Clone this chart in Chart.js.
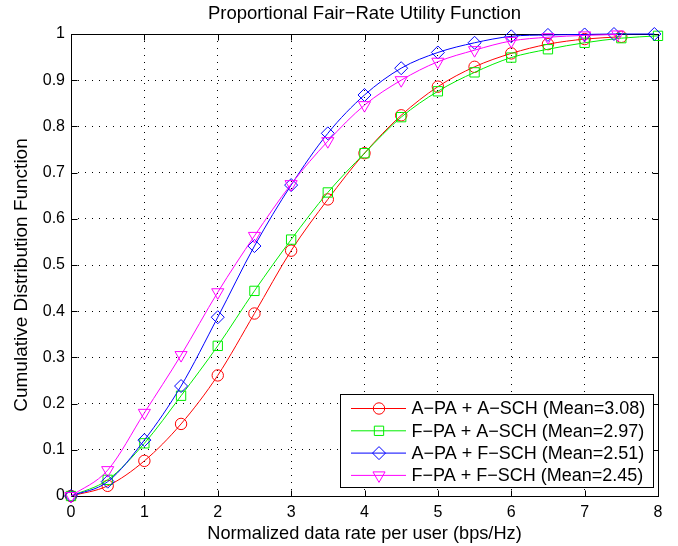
<!DOCTYPE html>
<html>
<head>
<meta charset="utf-8">
<script src="https://cdn.jsdelivr.net/npm/chart.js@4.4.1/dist/chart.umd.min.js"></script>
<style>
html,body{margin:0;padding:0;background:#fff;}
canvas{display:block;}
</style>
</head>
<body>
<canvas id="c" width="678" height="546"></canvas>
<script>
// ---------- data ----------
const chartTitle = 'Proportional Fair\u2212Rate Utility Function';
const xAxisTitle = 'Normalized data rate per user (bps/Hz)';
const yAxisTitle = 'Cumulative Distribution Function';
const seriesLabels = [
  'A\u2212PA + A\u2212SCH (Mean=3.08)',
  'F\u2212PA + A\u2212SCH (Mean=2.97)',
  'A\u2212PA + F\u2212SCH (Mean=2.51)',
  'F\u2212PA + F\u2212SCH (Mean=2.45)'
];
const xTickLabels = ['0','1','2','3','4','5','6','7','8'];
const yTickLabels = ['0','0.1','0.2','0.3','0.4','0.5','0.6','0.7','0.8','0.9','1'];

const xApaAsch = [0,0.5,1,1.5,2,2.5,3,3.5,4,4.5,5,5.5,6,6.5,7,7.5];
const yApaAsch = [0,0.022,0.076,0.156,0.261,0.395,0.531,0.642,0.742,0.824,0.886,0.929,0.958,0.978,0.989,0.994];

const xFpaAsch = [0,0.5,1,1.5,2,2.5,3,3.5,4,4.5,5,5.5,6,6.5,7,7.5,8];
const yFpaAsch = [0,0.035,0.114,0.217,0.325,0.444,0.555,0.657,0.742,0.820,0.876,0.917,0.949,0.967,0.981,0.991,0.996];

const xApaFsch = [0,0.5,1,1.5,2,2.5,3,3.5,4,4.5,5,5.5,6,6.5,7,7.4,7.95];
const yApaFsch = [0,0.031,0.121,0.238,0.387,0.541,0.673,0.785,0.868,0.926,0.960,0.981,0.995,0.998,0.999,1.0,1.0];

const xFpaFsch = [0,0.5,1,1.5,2,2.5,3,3.5,4,4.5,5,5.5,6,6.5,7,7.45];
const yFpaFsch = [0,0.056,0.180,0.305,0.441,0.563,0.675,0.768,0.846,0.900,0.940,0.965,0.985,0.993,0.997,0.999];

// ---------- helpers ----------
const FONT = "'Liberation Sans', Arial, Helvetica, sans-serif";
function pts(xs, ys) { return xs.map((x, i) => ({x: x, y: ys[i]})); }

function drawMarker(ctx, style, r, x, y) {
  ctx.beginPath();
  if (style === 'circle') {
    ctx.arc(x, y, r, 0, Math.PI * 2);
  } else if (style === 'rect') {
    const s = Math.SQRT1_2 * r;
    ctx.rect(x - s, y - s, 2 * s, 2 * s);
  } else if (style === 'rectRot') {
    ctx.moveTo(x - r, y); ctx.lineTo(x, y - r); ctx.lineTo(x + r, y); ctx.lineTo(x, y + r);
    ctx.closePath();
  } else if (style === 'triangleDown') {
    let a = Math.PI;
    ctx.moveTo(x + Math.sin(a) * r, y - Math.cos(a) * r);
    a += 2 * Math.PI / 3;
    ctx.lineTo(x + Math.sin(a) * r, y - Math.cos(a) * r);
    a += 2 * Math.PI / 3;
    ctx.lineTo(x + Math.sin(a) * r, y - Math.cos(a) * r);
    ctx.closePath();
  }
  ctx.stroke();
}

const seriesStyle = [
  {color: '#ff0000', style: 'circle', legendStyle: 'circle', r: 5.7, rot: 0},
  {color: '#00ee00', style: 'rect', legendStyle: 'rect', r: 6.6, rot: 0},
  {color: '#0000ff', style: 'rectRot', legendStyle: 'rectRot', r: 6.5, rot: 0},
  {color: '#ff00ff', style: 'triangle', legendStyle: 'triangleDown', r: 7, rot: 180}
];

// box + inward ticks + rotated y title
const boxPlugin = {
  id: 'matBox',
  beforeDatasetsDraw(chart) {
    const ctx = chart.ctx, a = chart.chartArea;
    const xs = chart.scales.x, ys = chart.scales.y;
    const L = Math.round(a.left) + 0.5, R = Math.round(a.right) + 0.5;
    const T = Math.round(a.top) + 0.5, B = Math.round(a.bottom) + 0.5;
    ctx.save();
    ctx.strokeStyle = '#000';
    ctx.lineWidth = 1;
    ctx.setLineDash([]);
    ctx.beginPath();
    xs.ticks.forEach(t => {
      const px = Math.round(xs.getPixelForValue(t.value)) + 0.5;
      ctx.moveTo(px, B); ctx.lineTo(px, B - 6);
      ctx.moveTo(px, T); ctx.lineTo(px, T + 6);
    });
    ys.ticks.forEach(t => {
      const py = Math.round(ys.getPixelForValue(t.value)) + 0.5;
      ctx.moveTo(L, py); ctx.lineTo(L + 6, py);
      ctx.moveTo(R, py); ctx.lineTo(R - 6, py);
    });
    ctx.stroke();
    ctx.strokeRect(L, T, R - L, B - T);
    // y axis title
    ctx.translate(22, (a.top + a.bottom) / 2 + 10);
    ctx.rotate(-Math.PI / 2);
    ctx.fillStyle = '#000';
    ctx.font = '19px ' + FONT;
    ctx.textAlign = 'center';
    ctx.textBaseline = 'middle';
    ctx.fillText(yAxisTitle, 0, 0);
    ctx.restore();
  }
};

// MATLAB-style legend inside axes
const legendPlugin = {
  id: 'matLegend',
  afterDraw(chart) {
    const ctx = chart.ctx, a = chart.chartArea;
    const w = 313, h = 93;
    const bx = Math.round(a.right - 5 - w) + 0.5, by = Math.round(a.bottom - 9 - h) + 0.5;
    ctx.save();
    ctx.fillStyle = '#fff';
    ctx.fillRect(bx, by, w, h);
    ctx.strokeStyle = '#000';
    ctx.lineWidth = 1;
    ctx.strokeRect(bx, by, w, h);
    ctx.font = '18px ' + FONT;
    ctx.textBaseline = 'middle';
    ctx.textAlign = 'left';
    chart.data.datasets.forEach((ds, i) => {
      const st = seriesStyle[i];
      const y = by + 14 + i * 22.3;
      ctx.strokeStyle = st.color;
      ctx.lineWidth = 1;
      ctx.beginPath();
      ctx.moveTo(bx + 10.5, y); ctx.lineTo(bx + 65.5, y);
      ctx.stroke();
      drawMarker(ctx, st.legendStyle, st.r, bx + 38.5, y);
      ctx.fillStyle = '#000';
      ctx.fillText(ds.label, bx + 71, y + 1);
    });
    ctx.restore();
  }
};

const allX = [xApaAsch, xFpaAsch, xApaFsch, xFpaFsch];
const allY = [yApaAsch, yFpaAsch, yApaFsch, yFpaFsch];

const datasets = seriesLabels.map((lab, i) => ({
  label: lab,
  data: pts(allX[i], allY[i]),
  borderColor: seriesStyle[i].color,
  backgroundColor: 'rgba(0,0,0,0)',
  borderWidth: 1,
  pointStyle: seriesStyle[i].style,
  pointRotation: seriesStyle[i].rot,
  pointRadius: seriesStyle[i].r,
  pointBorderColor: seriesStyle[i].color,
  pointBackgroundColor: 'rgba(0,0,0,0)',
  pointBorderWidth: 1,
  cubicInterpolationMode: 'monotone',
  fill: false,
  clip: false,
  order: 4 - i
}));

new Chart(document.getElementById('c'), {
  type: 'line',
  data: {datasets: datasets},
  plugins: [boxPlugin, legendPlugin],
  options: {
    responsive: false,
    animation: false,
    events: [],
    layout: {padding: {left: 0, right: 20, top: 0, bottom: 0}},
    plugins: {
      legend: {display: false},
      tooltip: {enabled: false},
      title: {
        display: true,
        text: chartTitle,
        color: '#000',
        fullSize: false,
        font: {family: FONT, size: 18.5, weight: 'normal'},
        padding: {top: 2.8, bottom: 9}
      }
    },
    scales: {
      x: {
        type: 'linear',
        min: 0, max: 8,
        afterFit: s => { s.height = 50; },
        ticks: {
          stepSize: 1,
          color: '#000',
          padding: 7,
          maxRotation: 0,
          font: {family: FONT, size: 16},
          callback: v => xTickLabels[Math.round(v)]
        },
        grid: {color: '#000', lineWidth: 1, drawTicks: false},
        border: {display: false, dash: [1, 6]},
        title: {
          display: true, text: xAxisTitle, color: '#000',
          font: {family: FONT, size: 18.2},
          padding: {top: 0, bottom: 1.5}
        }
      },
      y: {
        type: 'linear',
        min: 0, max: 1,
        afterFit: s => { s.width = 71; },
        ticks: {
          stepSize: 0.1,
          color: '#000',
          padding: 6,
          autoSkip: false,
          font: {family: FONT, size: 16},
          callback: v => yTickLabels[Math.round(v * 10)]
        },
        grid: {color: '#000', lineWidth: 1, drawTicks: false},
        border: {display: false, dash: [1, 6]}
      }
    }
  }
});
</script>
</body>
</html>
